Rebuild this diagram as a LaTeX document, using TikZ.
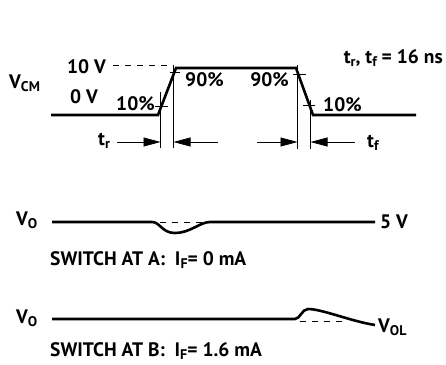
\documentclass[tikz,border=0pt]{standalone}
\usepackage{fontspec}
\setmainfont{PT Sans}
\usetikzlibrary{arrows.meta}
\newcommand\lowsub[1]{\raisebox{-0.35ex}{\fontsize{14}{15}\selectfont #1}}
\begin{document}
\begin{tikzpicture}[x=1pt,y=-1pt,
  wave/.style={line width=2.6pt, line join=miter},
  thinln/.style={line width=0.7pt},
  dashln/.style={line width=0.6pt, dash pattern=on 6pt off 6pt},
  lbl/.style={font=\fontsize{19.5}{22}\selectfont\bfseries, inner sep=0pt},
  arr/.style={line width=0.7pt, -{Triangle[length=17pt,width=9pt]}}]
\useasboundingbox (0,0) rectangle (446,364);
% ---- labels
\node[lbl, anchor=base east] (v10) at (106,73.3) {10 V};
\node[lbl, anchor=base west] (vcm) at (9,88) {V\lowsub{CM}};
\node[lbl, anchor=base west] (v0) at (70,103) {0 V};
\node[lbl, anchor=base west] (p10a) at (116,110) {10\%};
\node[lbl, anchor=base west] (p90a) at (185,86.5) {90\%};
\node[lbl, anchor=base east] (p90b) at (289,86.5) {90\%};
\node[lbl, anchor=base west] (p10b) at (323,111) {10\%};
\node[lbl, anchor=base east] (spec) at (443,63) {t\lowsub{r}, t\lowsub{f} = 16 ns};
\node[lbl, anchor=base west] (tr) at (98,145) {t\lowsub{r}};
\node[lbl, anchor=base west] (tf) at (367,147) {t\lowsub{f}};
\node[lbl, anchor=base west] (vo1) at (16,225) {V\lowsub{O}};
\node[lbl, anchor=base west] (v5) at (380,228) {5 V};
\node[lbl, anchor=base west] (swa) at (50,265) {SWITCH AT A:\ \ I\lowsub{F}= 0 mA};
\node[lbl, anchor=base west] (vo2) at (16,323) {V\lowsub{O}};
\node[lbl, anchor=base west] (vol) at (378,332) {V\lowsub{OL}};
\node[lbl, anchor=base west] (swb) at (50,356.5) {SWITCH AT B:\ \ I\lowsub{F}= 1.6 mA};
% ---- input waveform
\coordinate (a0) at (51,115);
\coordinate (r0) at (158,115);
\coordinate (r1) at (176,68);
\coordinate (f0) at (296,68);
\coordinate (f1) at (313,115);
\coordinate (e0) at (416,115);
\draw[wave] (a0) -- (r0) -- (r1) -- (f0) -- (f1) -- (e0);
% dashed 10 V level
\coordinate (d0) at (113,65.7);
\coordinate (d1) at (171,65.7);
\draw[dashln] (d0) -- (d1);
% verticals
\coordinate (vr1t) at (160.5,92); \coordinate (vr1b) at (160.5,148);
\coordinate (vr2t) at (173.5,65); \coordinate (vr2b) at (173.5,148);
\coordinate (vf1t) at (297.5,65); \coordinate (vf1b) at (297.5,149);
\coordinate (vf2t) at (310.5,100); \coordinate (vf2b) at (310.5,149);
\draw[thinln] (vr1t) -- (vr1b);
\draw[thinln] (vr2t) -- (vr2b);
\draw[thinln] (vf1t) -- (vf1b);
\draw[thinln] (vf2t) -- (vf2b);
% ticks
\coordinate (t1a) at (155,106); \coordinate (t1b) at (168,106);
\coordinate (t2a) at (170,72); \coordinate (t2b) at (180,72);
\coordinate (t3a) at (293,74); \coordinate (t3b) at (306,74);
\coordinate (t4a) at (303,105); \coordinate (t4b) at (315,105);
\draw[thinln] (t1a) -- (t1b);
\draw[thinln] (t2a) -- (t2b);
\draw[thinln] (t3a) -- (t3b);
\draw[thinln] (t4a) -- (t4b);
% arrows
\coordinate (ar1s) at (117,142); \coordinate (ar1e) at (160.5,142);
\coordinate (ar2s) at (218,142); \coordinate (ar2e) at (173.5,142);
\coordinate (ar3s) at (257,142); \coordinate (ar3e) at (297.5,142);
\coordinate (ar4s) at (355,142); \coordinate (ar4e) at (310.5,142);
\draw[arr] (ar1s) -- (ar1e);
\draw[arr] (ar2s) -- (ar2e);
\draw[arr] (ar3s) -- (ar3e);
\draw[arr] (ar4s) -- (ar4e);
% ---- output A
\coordinate (oa0) at (52,222);
\coordinate (oa1) at (152,222);
\coordinate (oa2) at (175,233);
\coordinate (oa3) at (210,222);
\coordinate (oa4) at (375,222);
\draw[wave] (oa0) -- (oa1) .. controls (160,222) and (162,233) .. (oa2)
  .. controls (190,233) and (200,222) .. (oa3) -- (oa4);
\coordinate (da0) at (160,222); \coordinate (da1) at (208,222);
\draw[dashln] (da0) -- (da1);
% ---- output B
\coordinate (ob0) at (52,319);
\coordinate (ob1) at (295,319);
\coordinate (ob2) at (308,309);
\coordinate (ob3) at (375,325);
\draw[wave] (ob0) -- (ob1) .. controls (300,319) and (302,309) .. (ob2)
  .. controls (322,309) and (350,321) .. (ob3);
\coordinate (db0) at (300,321.5); \coordinate (db1) at (343,321.5);
\draw[dashln] (db0) -- (db1);
\end{tikzpicture}
\end{document}
